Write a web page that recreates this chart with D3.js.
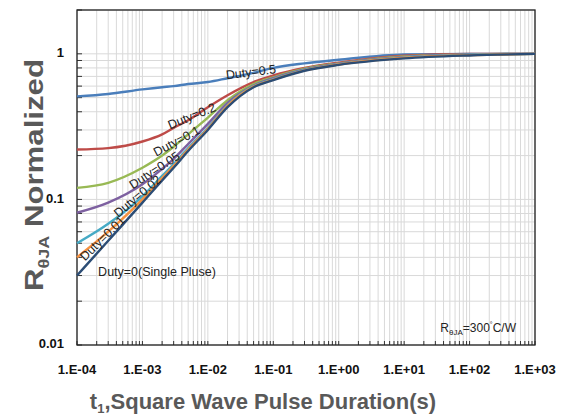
<!DOCTYPE html>
<html>
<head>
<meta charset="utf-8">
<script src="https://cdn.jsdelivr.net/npm/d3@7"></script>
<style>
  body { margin: 0; background: #fff; }
  svg { font-family: "Liberation Sans", Arial, sans-serif; }
</style>
</head>
<body>
<div id="chart-area"></div>
<script>
// pulse durations (s) shared by every curve
var pulseT = [1e-4, 3e-4, 1e-3, 2e-3, 3e-3, 5e-3, 1e-2, 2e-2, 5e-2, 1e-1, 3e-1, 1, 10, 100, 1000];

// normalized R for each duty cycle
var duty05  = [0.51, 0.53, 0.57, 0.59, 0.60, 0.62, 0.64, 0.68, 0.74, 0.80, 0.86, 0.91, 0.99, 1.0, 1.0];
var duty02  = [0.22, 0.225, 0.25, 0.28, 0.31, 0.35, 0.43, 0.52, 0.64, 0.71, 0.80, 0.87, 0.97, 1.0, 1.0];
var duty01  = [0.12, 0.13, 0.165, 0.20, 0.23, 0.28, 0.365, 0.48, 0.62, 0.69, 0.79, 0.86, 0.96, 0.99, 1.0];
var duty005 = [0.081, 0.095, 0.127, 0.162, 0.19, 0.24, 0.33, 0.46, 0.605, 0.68, 0.78, 0.855, 0.95, 0.99, 1.0];
var duty002 = [0.050, 0.068, 0.105, 0.145, 0.175, 0.225, 0.31, 0.445, 0.60, 0.67, 0.775, 0.85, 0.945, 0.985, 1.0];
var duty001 = [0.040, 0.060, 0.100, 0.14, 0.17, 0.22, 0.305, 0.44, 0.595, 0.665, 0.77, 0.845, 0.94, 0.98, 1.0];
var duty0   = [0.030, 0.052, 0.095, 0.135, 0.165, 0.215, 0.30, 0.43, 0.59, 0.66, 0.765, 0.84, 0.93, 0.975, 1.0];

var seriesNames = ["Duty=0.5", "Duty=0.2", "Duty=0.1", "Duty=0.05", "Duty=0.02", "Duty=0.01", "Duty=0(Single Pluse)"];
var seriesVals = [duty05, duty02, duty01, duty005, duty002, duty001, duty0];

var xTickVals = [1e-4, 1e-3, 1e-2, 1e-1, 1, 10, 100, 1000];
var xTickLabels = ["1.E-04", "1.E-03", "1.E-02", "1.E-01", "1.E+00", "1.E+01", "1.E+02", "1.E+03"];
var yTickVals = [0.01, 0.1, 1];
var yTickLabels = ["0.01", "0.1", "1"];

var colors = ["#4A7EBB", "#BE4B48", "#98B954", "#7D60A0", "#46AAC5", "#F69240", "#2C4D75"];

var margin = { left: 77, right: 32, top: 10, bottom: 71 };
var width = 567 - margin.left - margin.right,
    height = 416 - margin.top - margin.bottom;

var svg = d3.select("#chart-area")
    .append("svg")
        .attr("width", 567)
        .attr("height", 416);

var g = svg.append("g")
    .attr("transform", "translate(" + margin.left + "," + margin.top + ")");

var x = d3.scaleLog().domain([1e-4, 1e3]).range([0, width]);
var y = d3.scaleLog().domain([0.01, 2]).range([height, 0]);

// minor positions 1..9 in every decade
var xMinor = [];
xTickVals.slice(0, -1).forEach(function(d){
    for (var k = 1; k <= 9; k++) xMinor.push(d * k);
});
xMinor.push(1e3);
var yMinor = [];
[0.01, 0.1].forEach(function(d){
    for (var k = 1; k <= 9; k++) yMinor.push(d * k);
});
yMinor.push(1);
yMinor.push(2);

// grid
g.selectAll(".vgrid").data(xMinor).enter().append("line")
    .attr("x1", function(d){ return x(d); })
    .attr("x2", function(d){ return x(d); })
    .attr("y1", 0).attr("y2", height)
    .attr("stroke", "#d9d9d9").attr("stroke-width", 1);
g.selectAll(".hgrid").data(yMinor).enter().append("line")
    .attr("y1", function(d){ return y(d); })
    .attr("y2", function(d){ return y(d); })
    .attr("x1", 0).attr("x2", width)
    .attr("stroke", "#d9d9d9").attr("stroke-width", 1);

// small inner ticks
g.selectAll(".xtk").data(xMinor).enter().append("line")
    .attr("x1", function(d){ return x(d); })
    .attr("x2", function(d){ return x(d); })
    .attr("y1", height).attr("y2", height - 4)
    .attr("stroke", "#333").attr("stroke-width", 1);
g.selectAll(".ytk").data(yMinor).enter().append("line")
    .attr("y1", function(d){ return y(d); })
    .attr("y2", function(d){ return y(d); })
    .attr("x1", 0).attr("x2", 5)
    .attr("stroke", "#333").attr("stroke-width", 1);

// frame
g.append("rect")
    .attr("width", width).attr("height", height)
    .attr("fill", "none").attr("stroke", "#222").attr("stroke-width", 1.3);

// curves
var line = d3.line()
    .x(function(d){ return x(d[0]); })
    .y(function(d){ return y(d[1]); })
    .curve(d3.curveMonotoneX);

seriesVals.forEach(function(vals, i){
    g.append("path")
        .datum(pulseT.map(function(t, j){ return [t, vals[j]]; }))
        .attr("fill", "none")
        .attr("stroke", colors[i])
        .attr("stroke-width", 2.4)
        .attr("d", line);
});

// curve labels
var labelPos = [
    { x: 251, y: 73, a: -7 },
    { x: 192, y: 117, a: -22 },
    { x: 177, y: 142, a: -28 },
    { x: 155, y: 171, a: -33 },
    { x: 138, y: 197, a: -40 },
    { x: 103, y: 239, a: -45 },
    { x: 157, y: 273, a: 0 }
];
seriesNames.forEach(function(name, i){
    svg.append("text")
        .attr("transform", "translate(" + labelPos[i].x + "," + labelPos[i].y + ") rotate(" + labelPos[i].a + ")")
        .attr("text-anchor", "middle")
        .attr("dominant-baseline", "middle")
        .attr("font-size", "12.5px")
        .attr("fill", "#222")
        .text(name);
});

// R theta JA note
var note = g.append("text")
    .attr("x", width - 19)
    .attr("y", height - 13)
    .attr("text-anchor", "end")
    .attr("font-size", "12px")
    .attr("fill", "#222");
note.append("tspan").text("R");
note.append("tspan").attr("font-size", "8px").attr("dy", 3).text("θJA");
note.append("tspan").attr("dy", -3).text("=300");
note.append("tspan").attr("font-size", "7px").attr("dy", -5).text("°");
note.append("tspan").attr("dy", 5).text("C/W");

// tick labels
g.selectAll(".xlab").data(xTickVals).enter().append("text")
    .attr("x", function(d){ return x(d); })
    .attr("y", height + 29)
    .attr("text-anchor", "middle")
    .attr("font-size", "13px")
    .attr("font-weight", "bold")
    .attr("fill", "#111")
    .text(function(d, i){ return xTickLabels[i]; });

g.selectAll(".ylab").data(yTickVals).enter().append("text")
    .attr("x", -13)
    .attr("y", function(d){ return y(d); })
    .attr("text-anchor", "end")
    .attr("dominant-baseline", "middle")
    .attr("font-size", "13px")
    .attr("font-weight", "bold")
    .attr("fill", "#111")
    .text(function(d, i){ return yTickLabels[i]; });

// X Label
var xLabel = svg.append("text")
    .attr("x", 263)
    .attr("y", 409)
    .attr("text-anchor", "middle")
    .attr("font-size", "22px")
    .attr("font-weight", "bold")
    .attr("fill", "#595959");
xLabel.append("tspan").text("t");
xLabel.append("tspan").attr("font-size", "13px").attr("dy", 4).text("1");
xLabel.append("tspan").attr("dy", -4).text(",Square Wave Pulse Duration(s)");

// Y Label
var yLabel = svg.append("text")
    .attr("transform", "translate(43,175) rotate(-90) scale(1.2,1)")
    .attr("text-anchor", "middle")
    .attr("font-size", "26px")
    .attr("font-weight", "bold")
    .attr("fill", "#595959");
yLabel.append("tspan").text("R");
yLabel.append("tspan").attr("font-size", "15px").attr("dy", 6).text("θJA");
yLabel.append("tspan").attr("dy", -6).text(" Normalized");
</script>
</body>
</html>
